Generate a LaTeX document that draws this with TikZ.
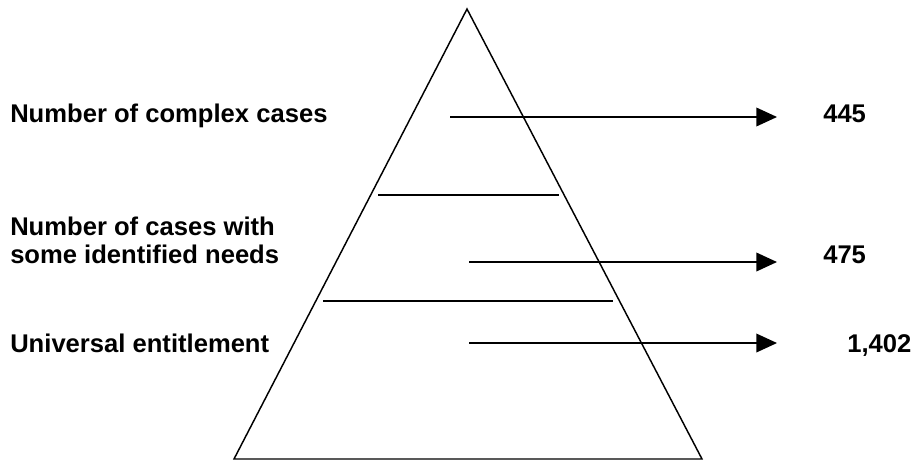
\documentclass[tikz,border=0pt]{standalone}
\usepackage{fontspec}
\setmainfont{Liberation Sans}
\usetikzlibrary{arrows.meta}
\begin{document}
\begin{tikzpicture}[x=0.75pt,y=-0.75pt,
  edge/.style={line width=1.1pt,black},
  arr/.style={edge,-{Triangle[length=15.5pt,width=14pt]}},
  lbl/.style={font=\bfseries\fontsize{19.2pt}{21pt}\selectfont,inner sep=0pt,align=left},
  num/.style={font=\bfseries\fontsize{19.2pt}{21pt}\selectfont,inner sep=0pt}]
\useasboundingbox (0,0) rectangle (914,462);
% pyramid
\coordinate (apex) at (467,9);
\coordinate (bl) at (234,459);
\coordinate (br) at (702,459);
\draw[edge,line join=miter] (apex) -- (br) -- (bl) -- cycle;
% dividers
\coordinate (d1l) at (378,195);
\coordinate (d1r) at (559,195);
\coordinate (d2l) at (323,301);
\coordinate (d2r) at (613,301);
\draw[edge] (d1l) -- (d1r);
\draw[edge] (d2l) -- (d2r);
% labels
\node[lbl,anchor=base west] (l1) at (10,122) {Number of complex cases};
\node[lbl,anchor=base west] (l2) at (10,263) {Number of cases with\\some identified needs};
\node[lbl,anchor=base west] (l3) at (10,352) {Universal entitlement};
% numbers
\node[num,anchor=base west] (n1) at (823,122) {445};
\node[num,anchor=base west] (n2) at (823,263) {475};
\node[num,anchor=base west] (n3) at (847,352) {1,402};
% arrows
\coordinate (a1s) at (450,117);
\coordinate (a1e) at (777,117);
\coordinate (a2s) at (469,262);
\coordinate (a2e) at (777,262);
\coordinate (a3s) at (469,343);
\coordinate (a3e) at (777,343);
\draw[arr] (a1s) -- (a1e);
\draw[arr] (a2s) -- (a2e);
\draw[arr] (a3s) -- (a3e);
\end{tikzpicture}
\end{document}
